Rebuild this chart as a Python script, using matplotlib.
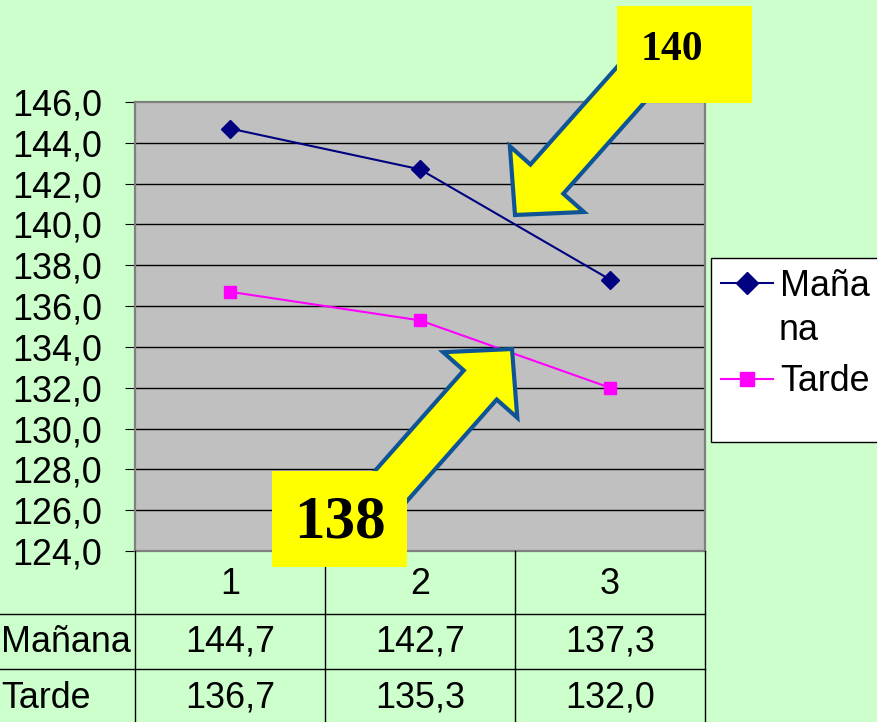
import matplotlib
matplotlib.use("Agg")
import matplotlib.pyplot as plt
from matplotlib import transforms, patches
from matplotlib.lines import Line2D

# ---- data ----
categories = ["1", "2", "3"]
manana = [144.7, 142.7, 137.3]
tarde = [136.7, 135.3, 132.0]
series_names = ["Mañana", "Tarde"]
legend_labels = ["Maña", "Tarde"]   # "Mañana" wraps as "Maña" / "na" in the legend
legend_wrap = "na"
yticks = [124, 126, 128, 130, 132, 134, 136, 138, 140, 142, 144, 146]
callout_top = "140"
callout_bottom = "138"

W, H = 878, 722
BG = "#CCFFCC"
plt.rcParams["font.family"] = ["Liberation Sans", "DejaVu Sans"]
FS = 25.8

fig = plt.figure(figsize=(W / 100, H / 100), dpi=100, facecolor=BG)
# pixel transform (origin top-left)
pxT = transforms.Affine2D().scale(1 / W, -1 / H).translate(0, 1) + fig.transFigure

L, R, T, B = 135, 705, 102, 551
ax = fig.add_axes([L / W, 1 - B / H, (R - L) / W, (B - T) / H])
ax.set_facecolor("#C0C0C0")
x = [1, 2, 3]
ax.plot(x, manana, color="#000080", lw=1.5, marker="D", ms=9.5, zorder=3, label=legend_labels[0])
ax.plot(x, tarde, color="#FF00FF", lw=1.5, marker="s", ms=9, zorder=3, label=legend_labels[1])
ax.set_xlim(0.5, 3.5)
ax.set_ylim(124, 146)
ax.set_yticks(yticks)
ax.set_yticklabels([f"{v:.1f}".replace(".", ",") for v in yticks], fontsize=FS)
ax.tick_params(axis="y", direction="out", length=7.5, width=0.8, color="black", pad=16)
ax.set_xticks([])
for v in yticks[1:-1]:
    ax.axhline(v, color="black", lw=1.0, zorder=1)
for s in ax.spines.values():
    s.set_color("#808080")
    s.set_linewidth(1.6)

# ---- data table ----
blend = transforms.blended_transform_factory(ax.transData, pxT)
tbl_kw = dict(color="black", lw=1.0, clip_on=False)
for xv in [0.5, 1.5, 2.5, 3.5]:
    fig.add_artist(Line2D([xv, xv], [B, H + 2], transform=blend, **tbl_kw))
for yv in [614, 669]:
    fig.add_artist(Line2D([0, R], [yv, yv], transform=pxT, **tbl_kw))
for xi, c in zip(x, categories):
    fig.text(xi, 585, c, transform=blend, ha="center", va="center", fontsize=FS)
for row_y, name, vals in [(642, series_names[0], manana), (698, series_names[1], tarde)]:
    fig.text(1, row_y, name, transform=pxT, ha="left", va="center", fontsize=FS)
    for xi, v in zip(x, vals):
        fig.text(xi, row_y, f"{v:.1f}".replace(".", ","), transform=blend,
                 ha="center", va="center", fontsize=FS)

# ---- legend ----
fig.add_artist(patches.Rectangle((711, 258), 200, 184, transform=pxT, facecolor="white",
                                 edgecolor="black", lw=1.0, zorder=1))
handles, labels = ax.get_legend_handles_labels()
leg = fig.legend(handles, labels, loc="upper left", bbox_to_anchor=(721 / W, 1 - 269 / H),
                 bbox_transform=fig.transFigure, frameon=False, fontsize=FS,
                 handlelength=1.45, handletextpad=0.2, labelspacing=1.68,
                 borderpad=0, borderaxespad=0, markerscale=1.15)
leg.set_zorder(2)
fig.text(779, 330, legend_wrap, transform=pxT, ha="left", va="center", fontsize=FS, zorder=3)

# ---- callout arrows ----
ARROW_Y = "#FFFF00"
EDGE = "#0F5596"
def arrow(tail, tip):
    dx, dy = tip[0] - tail[0], tip[1] - tail[1]
    a = patches.FancyArrow(tail[0], tail[1], dx, dy, width=44, head_width=99,
                           head_length=48, length_includes_head=True,
                           transform=pxT, facecolor=ARROW_Y, edgecolor=EDGE,
                           lw=3.0, zorder=10, joinstyle="miter")
    fig.add_artist(a)

arrow((642, 72), (515, 215))
arrow((360, 521), (512, 349))

fig.add_artist(patches.Rectangle((617, 6), 135, 97, transform=pxT,
                                 facecolor=ARROW_Y, edgecolor="none", zorder=11))
fig.text(672, 50, callout_top, transform=pxT, ha="center", va="center",
         fontsize=30, fontweight="bold", family=["Liberation Serif"], zorder=12)
fig.add_artist(patches.Rectangle((272, 471), 135, 96, transform=pxT,
                                 facecolor=ARROW_Y, edgecolor="none", zorder=11))
fig.text(340, 522, callout_bottom, transform=pxT, ha="center", va="center",
         fontsize=44, fontweight="bold", family=["Liberation Serif"], zorder=12)

fig.savefig("out.png", dpi=100, facecolor=BG)
